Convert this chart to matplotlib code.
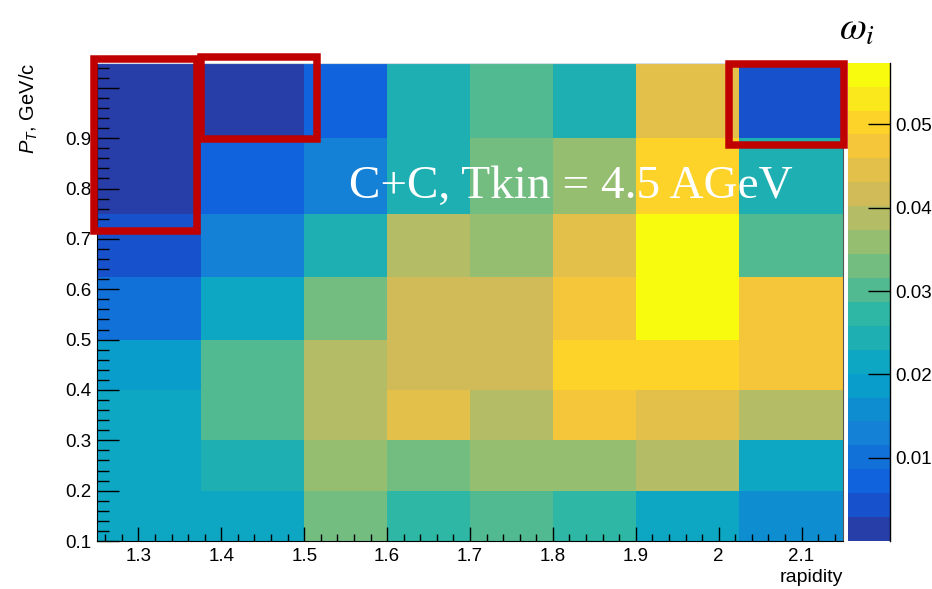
import numpy as np
import matplotlib
matplotlib.use("Agg")
import matplotlib.pyplot as plt
from matplotlib.colors import LinearSegmentedColormap, ListedColormap, BoundaryNorm
from matplotlib.patches import Rectangle
from matplotlib.ticker import MultipleLocator, FixedLocator

plt.rcParams["font.family"] = ["Liberation Sans", "DejaVu Sans"]
plt.rcParams["mathtext.fontset"] = "custom"
plt.rcParams["mathtext.rm"] = "Liberation Sans"
plt.rcParams["mathtext.it"] = "Liberation Sans:italic"

# bin edges (variable width)
rapidity_edges = [1.25, 1.375, 1.5, 1.6, 1.7, 1.8, 1.9, 2.025, 2.15]
pt_edges = [0.1, 0.2, 0.3, 0.4, 0.5, 0.625, 0.75, 0.9, 1.05]

# omega_i per cell, one list per pT row (bottom -> top), columns in rapidity order
row_010_020 = [0.0215, 0.0215, 0.0330, 0.0273, 0.0301, 0.0273, 0.0215, 0.0158]
row_020_030 = [0.0215, 0.0244, 0.0359, 0.0330, 0.0359, 0.0359, 0.0387, 0.0215]
row_030_040 = [0.0215, 0.0301, 0.0387, 0.0445, 0.0387, 0.0474, 0.0445, 0.0387]
row_040_050 = [0.0187, 0.0301, 0.0387, 0.0416, 0.0416, 0.0502, 0.0502, 0.0474]
row_050_062 = [0.0100, 0.0215, 0.0330, 0.0416, 0.0416, 0.0474, 0.0560, 0.0474]
row_062_075 = [0.0043, 0.0129, 0.0244, 0.0387, 0.0359, 0.0445, 0.0560, 0.0301]
row_075_090 = [0.0014, 0.0072, 0.0129, 0.0244, 0.0330, 0.0359, 0.0502, 0.0244]
row_090_105 = [0.0014, 0.0014, 0.0072, 0.0244, 0.0301, 0.0244, 0.0445, 0.0043]

z_min, z_max = 0.0, 0.0574
n_contours = 20
cbar_ticks = [0.01, 0.02, 0.03, 0.04, 0.05]

x_ticks = [1.3, 1.4, 1.5, 1.6, 1.7, 1.8, 1.9, 2.0, 2.1]
x_ticklabels = ["1.3", "1.4", "1.5", "1.6", "1.7", "1.8", "1.9", "2", "2.1"]
y_ticks = [0.1, 0.2, 0.3, 0.4, 0.5, 0.6, 0.7, 0.8, 0.9, 1.0]
# the "1" label sits under the red box in the original
y_ticklabels = ["0.1", "0.2", "0.3", "0.4", "0.5", "0.6", "0.7", "0.8", "0.9", ""]

# ROOT kBird palette
bird_stops = np.linspace(0, 1, 9)
bird_r = [0.2082, 0.0592, 0.0780, 0.0232, 0.1802, 0.5301, 0.8186, 0.9956, 0.9764]
bird_g = [0.1664, 0.3599, 0.5041, 0.6419, 0.7178, 0.7492, 0.7328, 0.7862, 0.9832]
bird_b = [0.5293, 0.8684, 0.8385, 0.7914, 0.6425, 0.4662, 0.3499, 0.1968, 0.0539]
bird = LinearSegmentedColormap.from_list(
    "bird", list(zip(bird_stops, zip(bird_r, bird_g, bird_b))), N=255)
# ROOT picks one palette colour per contour band
band_colors = [bird(int((i + 0.99) * 255 / n_contours) / 254) for i in range(n_contours)]
cmap = ListedColormap(band_colors)
levels = np.linspace(z_min, z_max, n_contours + 1)
norm = BoundaryNorm(levels, cmap.N)

W, H = 932, 589
fig = plt.figure(figsize=(W / 100, H / 100), dpi=100)

ax_l, ax_r, ax_t, ax_b = 97, 843, 62.7, 541
ax = fig.add_axes([ax_l / W, 1 - ax_b / H, (ax_r - ax_l) / W, (ax_b - ax_t) / H])

z = np.array([row_010_020, row_020_030, row_030_040, row_040_050,
              row_050_062, row_062_075, row_075_090, row_090_105])
mesh = ax.pcolormesh(rapidity_edges, pt_edges, z, cmap=cmap, norm=norm)

ax.set_xlim(rapidity_edges[0], rapidity_edges[-1])
ax.set_ylim(pt_edges[0], pt_edges[-1])
ax.xaxis.set_major_locator(FixedLocator(x_ticks))
ax.set_xticklabels(x_ticklabels)
ax.xaxis.set_minor_locator(MultipleLocator(0.02))
ax.yaxis.set_major_locator(FixedLocator(y_ticks))
ax.set_yticklabels(y_ticklabels)
ax.yaxis.set_minor_locator(MultipleLocator(0.02))
ax.tick_params(axis="both", which="both", direction="in", labelsize=13.5, width=1)
ax.tick_params(axis="x", which="major", length=10, pad=5)
ax.tick_params(axis="x", which="minor", length=5)
ax.tick_params(axis="y", which="major", length=16, pad=4.3)
ax.tick_params(axis="y", which="minor", length=8.5)

ax.spines["top"].set_color("#d8dce4")
ax.spines["right"].set_color("#555555")

ax.set_xlabel("rapidity", loc="right", fontsize=14)
ax.xaxis.set_label_coords(1.0, -0.058)
ax.set_ylabel(r"$P_T$, GeV/c", loc="top", fontsize=14.5)
ax.yaxis.set_label_coords(-0.076, 1.0)

# colour scale
cax = fig.add_axes([848 / W, 1 - ax_b / H, 42 / W, (ax_b - ax_t) / H])
cb = fig.colorbar(mesh, cax=cax, ticks=cbar_ticks)
cb.outline.set_visible(False)
cax.plot([1, 1], [0, 1], transform=cax.transAxes, color="black", lw=1, clip_on=False)
cax.set_yticklabels(["0.01", "0.02", "0.03", "0.04", "0.05"])
cax.tick_params(axis="y", which="major", direction="in", length=15.6, width=1,
                labelsize=13.5, pad=3.6)
cax.minorticks_off()

fig.text(857 / W, 1 - 30 / H, r"$\omega_i$", fontsize=28, ha="center", va="center",
         math_fontfamily="stix")

ax.text(570.5 / W, 1 - 198 / H, "C+C, Tkin = 4.5 AGeV", transform=fig.transFigure,
        fontsize=34, color="white", ha="center", va="baseline", family="Liberation Serif")

# red highlight boxes
for x0, x1, y0, y1 in [(93.5, 196.5, 59, 230.5), (201, 316.5, 57, 139), (729, 844, 63.7, 145.5)]:
    fig.add_artist(Rectangle((x0 / W, 1 - y1 / H), (x1 - x0) / W, (y1 - y0) / H,
                             transform=fig.transFigure, fill=False,
                             edgecolor="#c00000", lw=5.4, joinstyle="miter"))

fig.savefig("out.png", dpi=100)
